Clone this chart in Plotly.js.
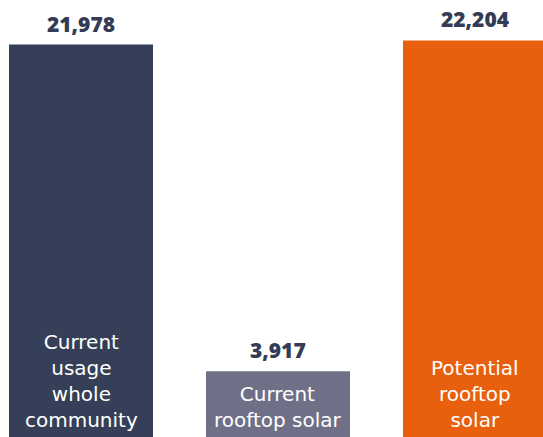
<!DOCTYPE html>
<html>
<head>
<meta charset="utf-8">
<script src="https://cdn.plot.ly/plotly-3.0.1.min.js"></script>
<style>html,body{margin:0;padding:0;background:#fff;}#chart{width:543px;height:437px;}</style>
</head>
<body>
<div id="chart"></div>
<script>
const categories = ["Current<br>usage<br>whole<br>community", "Current<br>rooftop solar", "Potential<br>rooftop<br>solar"];
const values = [21978, 3917, 22204];
const valueLabels = ["21,978", "3,917", "22,204"];
const barColors = ["#353f57", "#6f7087", "#e8600e"];

const xs = categories.map((c, i) => i);

const trace = {
  type: "bar",
  x: xs,
  y: values,
  marker: { color: barColors, line: { width: 0 } },
  width: 0.731,
  hoverinfo: "skip"
};

const annotations = [];
values.forEach((v, i) => {
  annotations.push({
    x: xs[i], y: v, xref: "x", yref: "y",
    text: valueLabels[i],
    showarrow: false, xanchor: "center", yanchor: "bottom", yshift: 5,
    font: { family: "Open Sans, sans-serif", size: 21, weight: 800, color: "#333c54" }
  });
  annotations.push({
    x: xs[i], y: 0, xref: "x", yref: "paper",
    text: categories[i],
    showarrow: false, xanchor: "center", yanchor: "bottom", yshift: 3,
    align: "center",
    font: { family: "DejaVu Sans, sans-serif", size: 20, color: "#ffffff" }
  });
});

const layout = {
  width: 543, height: 437,
  margin: { l: 0, r: 0, t: 0, b: 0, pad: 0 },
  paper_bgcolor: "#ffffff", plot_bgcolor: "#ffffff",
  showlegend: false,
  xaxis: { range: [-0.4112, 2.3452], visible: false, showgrid: false, zeroline: false, fixedrange: true },
  yaxis: { range: [276, 24439], visible: false, showgrid: false, zeroline: false, fixedrange: true },
  annotations: annotations
};

Plotly.newPlot("chart", [trace], layout, { displayModeBar: false, staticPlot: true });
</script>
</body>
</html>
